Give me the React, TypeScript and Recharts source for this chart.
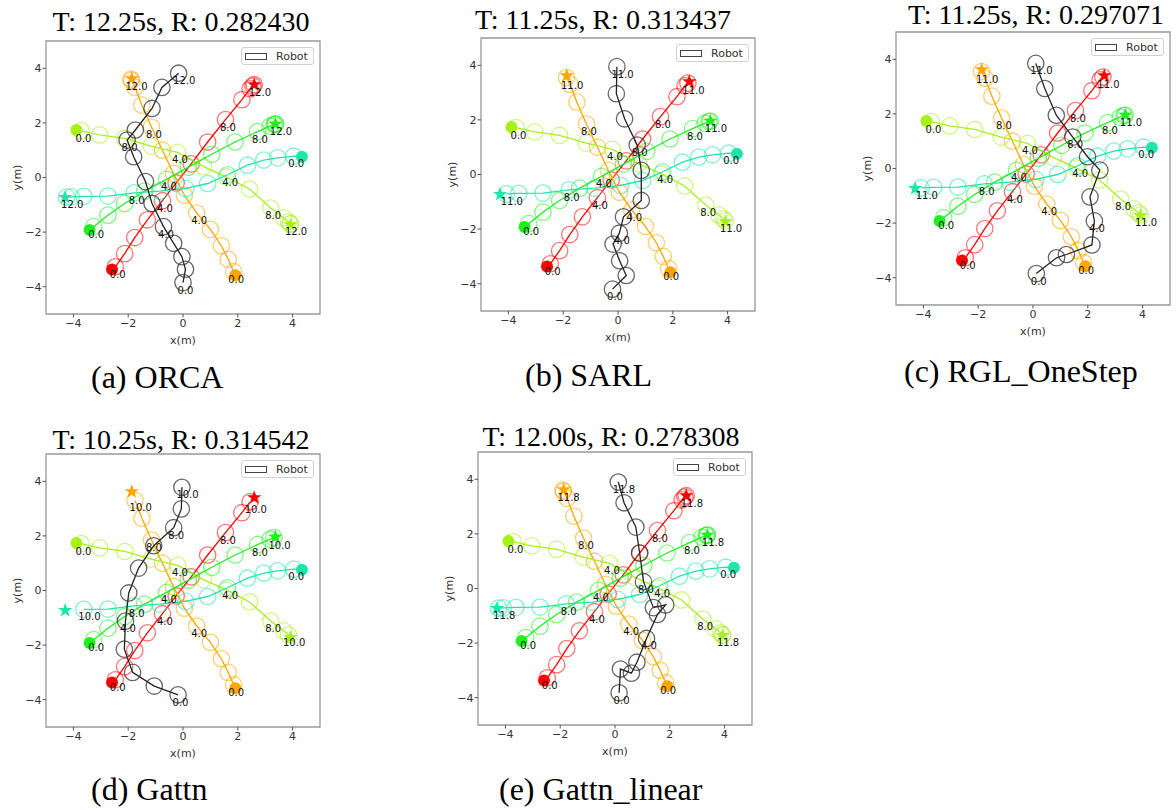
import React from "react";
import { ScatterChart, Scatter, XAxis, YAxis, ReferenceArea } from "recharts";

type Pt = [number, number];

// human positions once per second (t = 0 .. 12); the crowd is the same in every run
const redTrack: Pt[] = [
  [-2.47, -3.27], [-2.13, -2.79], [-1.76, -2.2], [-1.3, -1.55], [-0.75, -0.85], [-0.25, -0.2],
  [0.3, 0.5], [0.9, 1.3], [1.55, 2.12], [2.15, 2.85], [2.45, 3.25], [2.55, 3.35], [2.6, 3.4],
];
const orangeTrack: Pt[] = [
  [1.85, -3.45], [1.65, -3.0], [1.4, -2.5], [1.0, -1.9], [0.5, -1.3], [0.05, -0.65],
  [-0.35, 0.15], [-0.75, 1.0], [-1.15, 1.85], [-1.5, 2.65], [-1.75, 3.3], [-1.88, 3.55], [-1.9, 3.6],
];
const yellowTrack: Pt[] = [
  [-3.72, 1.72], [-3.04, 1.56], [-2.13, 1.43], [-1.16, 1.15], [-0.2, 0.92], [0.75, 0.4],
  [1.58, 0.02], [2.43, -0.42], [3.2, -1.12], [3.68, -1.48], [3.85, -1.62], [3.92, -1.7], [3.92, -1.7],
];
const greenTrack: Pt[] = [
  [-3.26, -1.8], [-2.74, -1.38], [-2.13, -0.95], [-1.4, -0.5], [-0.6, -0.07], [0.2, 0.38],
  [1.05, 0.85], [1.9, 1.3], [2.72, 1.68], [3.18, 1.88], [3.32, 1.94], [3.37, 1.96], [3.37, 1.96],
];
const tealTrack: Pt[] = [
  [4.04, 0.78], [3.45, 0.72], [2.95, 0.64], [2.35, 0.45], [1.63, 0.1], [0.9, -0.22],
  [0.1, -0.4], [-0.85, -0.5], [-1.78, -0.56], [-2.74, -0.68], [-3.62, -0.69], [-4.08, -0.71], [-4.25, -0.72],
];

// red, orange, yellow-green, green, teal
const humanStarts: Pt[] = [[-2.59, -3.37], [1.91, -3.58], [-3.89, 1.74], [-3.41, -1.92], [4.34, 0.76]];
const humanGoals: Pt[] = [[2.6, 3.4], [-1.87, 3.62], [3.92, -1.72], [3.37, 1.96], [-4.3, -0.73]];
const humanColors = ["#ff0000", "#ffa500", "#a8f01a", "#1ef01e", "#1ee6aa"];

// robot positions once per second, last entry is the final step
const robotOrca: Pt[] = [
  [0.0, -3.85], [0.09, -3.36], [-0.04, -2.9], [-0.34, -2.41], [-0.71, -1.8], [-1.13, -0.95],
  [-1.37, -0.15], [-1.8, 0.76], [-2.04, 1.37], [-1.74, 1.74], [-1.13, 2.53], [-0.77, 3.3], [-0.16, 3.82],
];
const robotSarl: Pt[] = [
  [-0.2, -4.2], [0.3, -3.7], [0.06, -3.16], [-0.18, -2.55], [0.05, -2.15], [0.2, -1.55],
  [0.85, -0.95], [0.85, 0.15], [0.7, 1.08], [0.24, 2.04], [-0.06, 2.96], [-0.04, 3.95],
];
const robotRgl: Pt[] = [
  [0.12, -3.85], [0.86, -3.27], [1.22, -3.15], [2.15, -2.8], [2.24, -1.92], [2.08, -1.04],
  [2.44, -0.06], [1.99, 0.43], [1.45, 1.15], [0.85, 1.95], [0.43, 2.93], [0.1, 3.85],
];
const robotGattn: Pt[] = [
  [-0.18, -3.82], [-1.05, -3.5], [-1.84, -3.0], [-2.14, -2.15], [-2.1, -1.12], [-1.98, -0.09],
  [-1.62, 0.82], [-1.07, 1.64], [-0.34, 2.3], [-0.06, 2.99], [-0.04, 3.78],
];
const robotGattnLinear: Pt[] = [
  [0.15, -3.82], [0.2, -2.95], [0.6, -3.1], [0.8, -2.7], [1.15, -1.83], [1.55, -0.95],
  [1.85, -0.6], [1.4, -0.7], [1.04, 0.25], [0.9, 1.3], [0.76, 2.25], [0.33, 3.14], [0.12, 3.9],
];

const panelTitles = [
  "T: 12.25s, R: 0.282430",
  "T: 11.25s, R: 0.313437",
  "T: 11.25s, R: 0.297071",
  "T: 10.25s, R: 0.314542",
  "T: 12.00s, R: 0.278308",
];
const panelCaptions = ["(a) ORCA", "(b) SARL", "(c) RGL_OneStep", "(d) Gattn", "(e) Gattn_linear"];
const panelFinalTimes = [12.0, 11.0, 11.0, 10.0, 11.75];
const robotTracks = [robotOrca, robotSarl, robotRgl, robotGattn, robotGattnLinear];
const axisTicks = [-4, -2, 0, 2, 4];

// page placement of each axes box (left, top) and its title / caption
const BOX_W = 274;
const BOX_H = 273;
const layout = [
  { left: 46, top: 41, titleX: 181, titleY: 22, capX: 91, capY: 380 },
  { left: 481, top: 38, titleX: 603, titleY: 20, capX: 525, capY: 378 },
  { left: 896, top: 32, titleX: 1036, titleY: 15, capX: 904, capY: 374 },
  { left: 46, top: 454, titleX: 181, titleY: 440, capX: 91, capY: 792 },
  { left: 478, top: 452, titleX: 611, titleY: 437, capX: 499, capY: 792 },
];

const Y_AXIS_W = 46;
const TOP_PAD = 6;
const X_AXIS_H = 38;
const SERIF = "'Liberation Serif', 'Times New Roman', serif";
const SANS = "'DejaVu Sans', sans-serif";

const toPoint = (p: Pt, t = 0) => ({ x: p[0], y: p[1], t });

const nothing = () => <g />;

const ring = (color: string, opacity: number) => (p: any) => (
  <circle cx={p.cx} cy={p.cy} r={8.2} fill="none" stroke={color} strokeOpacity={opacity} strokeWidth={1.3} />
);

const dot = (color: string) => (p: any) => <circle cx={p.cx} cy={p.cy} r={6} fill={color} />;

const star = (color: string) => (p: any) => {
  const pts: string[] = [];
  for (let i = 0; i < 10; i++) {
    const r = i % 2 === 0 ? 7.5 : 3;
    const a = -Math.PI / 2 + (i * Math.PI) / 5;
    pts.push(`${p.cx + r * Math.cos(a)},${p.cy + r * Math.sin(a)}`);
  }
  return <polygon points={pts.join(" ")} fill={color} />;
};

const timeLabel = (p: any) => (
  <text x={p.cx - 5.5} y={p.cy + 11} fontSize={10} fontFamily={SANS} fill="#111">
    {p.payload.t.toFixed(1)}
  </text>
);

const fmtTick = (v: number) => (v < 0 ? `\u2212${-v}` : `${v}`);

const Panel = ({ idx }: { idx: number }) => {
  const box = layout[idx];
  const final = panelFinalTimes[idx];
  const times: number[] = [];
  for (let t = 0; t <= Math.floor(final); t++) times.push(t);
  if (!Number.isInteger(final)) times.push(final);

  const pick = (track: Pt[]) =>
    times.map((t) => toPoint(Number.isInteger(t) ? track[t] : track[track.length - 1], t));
  const isLabel = (i: number) => times[i] % 4 === 0 || i === times.length - 1;

  const humans = [redTrack, orangeTrack, yellowTrack, greenTrack, tealTrack];
  const series: React.ReactElement[] = [];
  const labels: { x: number; y: number; t: number }[] = [];

  humans.forEach((track, k) => {
    const pts = pick(track);
    const color = humanColors[k];
    series.push(
      <Scatter key={`hl${k}`} data={[toPoint(humanStarts[k]), ...pts]} shape={nothing}
        line={{ stroke: color, strokeWidth: 1.3 }} lineType="joint" isAnimationActive={false} />
    );
    series.push(<Scatter key={`hc${k}`} data={pts} shape={ring(color, 0.55)} isAnimationActive={false} />);
    pts.forEach((p, i) => isLabel(i) && labels.push(p));
  });

  const robotPts = robotTracks[idx].map((p, i) => toPoint(p, times[i]));
  series.push(
    <Scatter key="rl" data={robotPts} shape={nothing}
      line={{ stroke: "#222", strokeWidth: 1.3 }} lineType="joint" isAnimationActive={false} />
  );
  series.push(<Scatter key="rc" data={robotPts} shape={ring("#333", 0.75)} isAnimationActive={false} />);
  robotPts.forEach((p, i) => isLabel(i) && labels.push(p));

  humanStarts.forEach((s, k) => {
    series.push(<Scatter key={`s${k}`} data={[toPoint(s)]} shape={dot(humanColors[k])} isAnimationActive={false} />);
    series.push(<Scatter key={`g${k}`} data={[toPoint(humanGoals[k])]} shape={star(humanColors[k])} isAnimationActive={false} />);
  });
  series.push(<Scatter key="labels" data={labels} shape={timeLabel} isAnimationActive={false} />);

  return (
    <>
      <div
        style={{
          position: "absolute", left: box.titleX - 200, top: box.titleY - 16, width: 400,
          textAlign: "center", fontFamily: SERIF, fontSize: 28, lineHeight: "32px", color: "#000",
        }}
      >
        {panelTitles[idx]}
      </div>
      <div style={{ position: "absolute", left: box.left - Y_AXIS_W, top: box.top - TOP_PAD }}>
        <ScatterChart
          width={Y_AXIS_W + BOX_W + 6}
          height={TOP_PAD + BOX_H + X_AXIS_H}
          margin={{ top: TOP_PAD, right: 6, bottom: 0, left: 0 }}
        >
          <XAxis
            type="number" dataKey="x" domain={[-5, 5]} ticks={axisTicks} allowDataOverflow
            height={X_AXIS_H} axisLine={false} tickLine={{ stroke: "#555" }} tickSize={3.5} tickMargin={2}
            tickFormatter={fmtTick} tick={{ fontSize: 11, fill: "#333", fontFamily: SANS }}
            label={{ value: "x(m)", position: "insideBottom", offset: 8, fontSize: 11, fill: "#333", fontFamily: SANS }}
          />
          <YAxis
            type="number" dataKey="y" domain={[-5, 5]} ticks={axisTicks} allowDataOverflow
            width={Y_AXIS_W} axisLine={false} tickLine={{ stroke: "#555" }} tickSize={3.5} tickMargin={1}
            tickFormatter={fmtTick} tick={{ fontSize: 11, fill: "#333", fontFamily: SANS }}
            label={{
              value: "y(m)", angle: -90, position: "insideLeft", offset: 17, fontSize: 11,
              fill: "#333", fontFamily: SANS, style: { textAnchor: "middle" },
            }}
          />
          {series}
          <ReferenceArea x1={-5} x2={5} y1={-5} y2={5} fill="none" stroke="#999" strokeWidth={1.3} fillOpacity={0} />
        </ScatterChart>
      </div>
      <div
        style={{
          position: "absolute", left: box.left + BOX_W - 6 - 73, top: box.top + 6, width: 73, height: 18,
          boxSizing: "border-box", border: "1px solid #d0d0d0", borderRadius: 3, background: "#fff",
          display: "flex", alignItems: "center", fontFamily: SANS, fontSize: 11, color: "#333",
        }}
      >
        <span style={{ display: "inline-block", width: 22, height: 7, border: "1px solid #444", marginLeft: 3, boxSizing: "border-box" }} />
        <span style={{ marginLeft: 9 }}>Robot</span>
      </div>
      <div
        style={{
          position: "absolute", left: box.capX, top: box.capY - 21, fontFamily: SERIF,
          fontSize: 32, lineHeight: "36px", color: "#000", whiteSpace: "nowrap",
        }}
      >
        {panelCaptions[idx]}
      </div>
    </>
  );
};

export default function App() {
  return (
    <div style={{ position: "absolute", left: 0, top: 0, width: 1176, height: 810, background: "#fff", overflow: "hidden" }}>
      {panelTitles.map((_, i) => (
        <Panel key={i} idx={i} />
      ))}
    </div>
  );
}
